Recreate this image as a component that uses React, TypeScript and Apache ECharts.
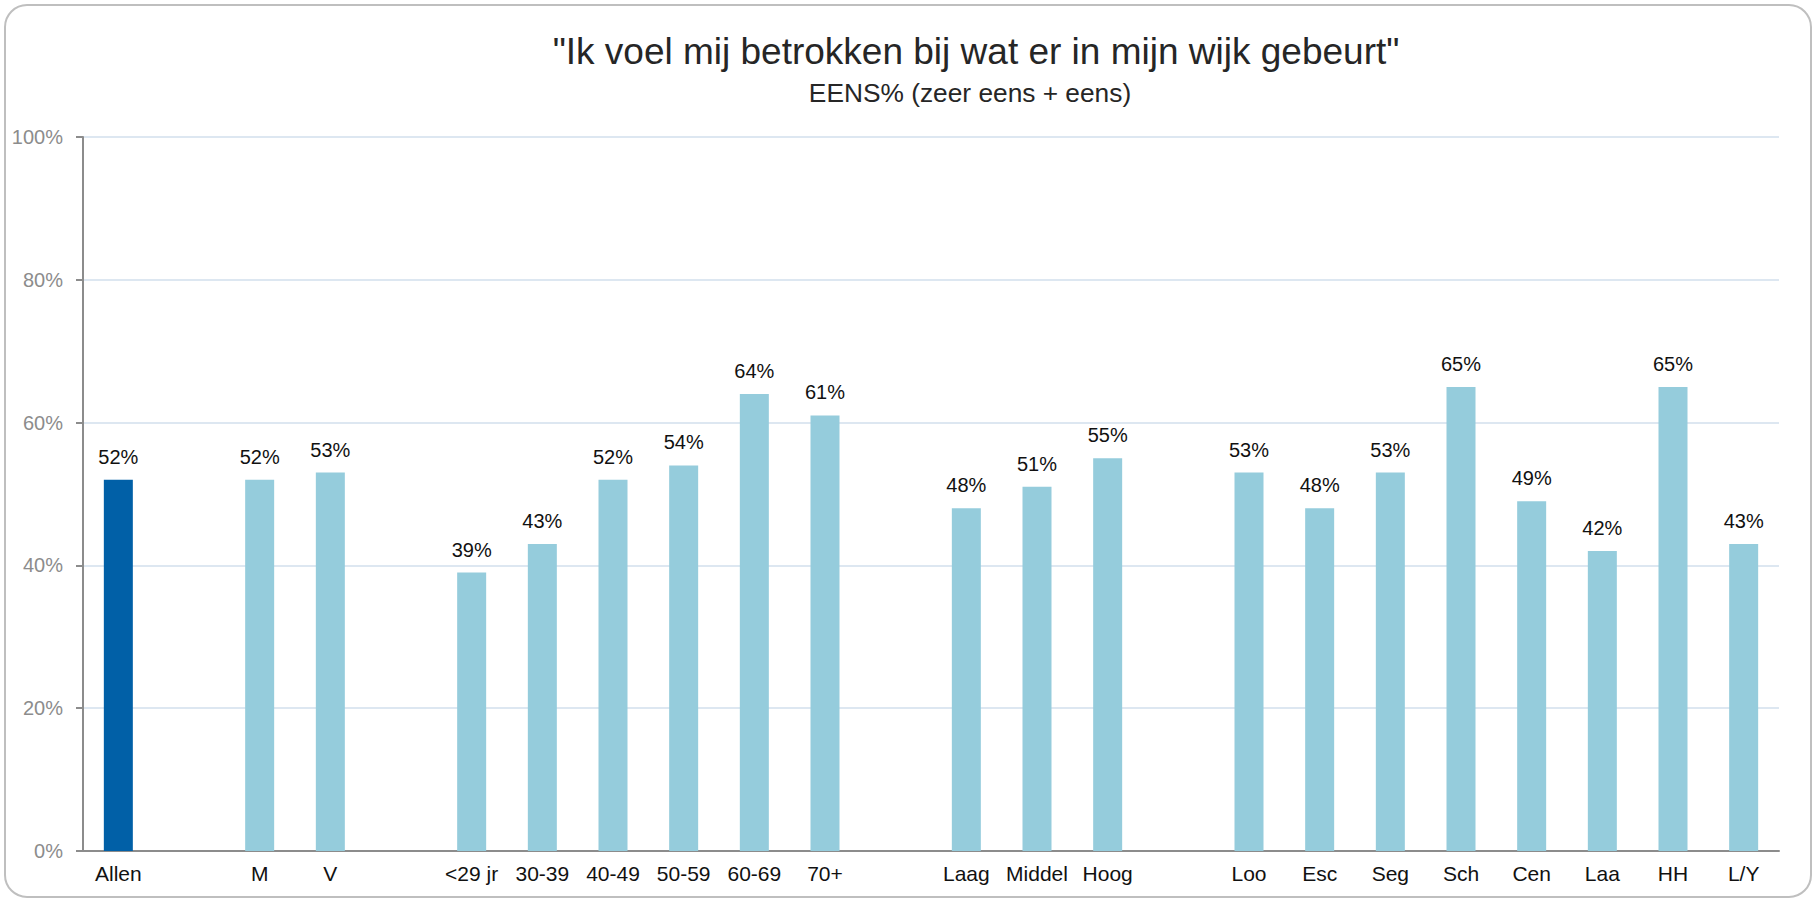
import React, { useEffect, useRef } from "react";
import * as echarts from "echarts";

const categories = [
  "Allen", "", "M", "V", "", "<29 jr", "30-39", "40-49", "50-59", "60-69", "70+", "",
  "Laag", "Middel", "Hoog", "", "Loo", "Esc", "Seg", "Sch", "Cen", "Laa", "HH", "L/Y",
];
const values: (number | null)[] = [
  52, null, 52, 53, null, 39, 43, 52, 54, 64, 61, null,
  48, 51, 55, null, 53, 48, 53, 65, 49, 42, 65, 43,
];
const highlightCategory = "Allen";
const titleText = '"Ik voel mij betrokken bij wat er in mijn wijk gebeurt"';
const subtitleText = "EENS% (zeer eens + eens)";
const yTicks = [0, 20, 40, 60, 80, 100];

const FONT = '"Liberation Sans", Arial, Helvetica, sans-serif';

export default function App() {
  const ref = useRef<HTMLDivElement>(null);
  useEffect(() => {
    if (!ref.current) return;
    const chart = echarts.init(ref.current, undefined, { renderer: "svg" });
    const data = values.map((v, i) =>
      v === null
        ? "-"
        : {
            value: v,
            itemStyle: {
              color: categories[i] === highlightCategory ? "#0160a7" : "#95ccdc",
            },
          }
    );
    chart.setOption({
      animation: false,
      backgroundColor: "#ffffff",
      textStyle: { fontFamily: FONT },
      title: [
        {
          text: titleText,
          left: 971,
          top: 28,
          textAlign: "center",
          textStyle: { fontFamily: FONT, fontSize: 37, fontWeight: "normal", color: "#262626" },
        },
        {
          text: subtitleText,
          left: 965,
          top: 75,
          textAlign: "center",
          textStyle: { fontFamily: FONT, fontSize: 26.3, fontWeight: "normal", color: "#262626" },
        },
      ],
      graphic: [
        {
          type: "rect",
          shape: { x: 5, y: 5, width: 1806, height: 892, r: 22 },
          style: { fill: "none", stroke: "#bfbfbf", lineWidth: 2 },
          silent: true,
          z: 100,
        },
      ],
      grid: { left: 83, right: 38, top: 137, bottom: 50, containLabel: false },
      xAxis: {
        type: "category",
        data: categories,
        axisLine: { show: true, lineStyle: { color: "#8c8c8c", width: 2 } },
        axisTick: { show: false },
        axisLabel: {
          interval: 0,
          color: "#111111",
          fontSize: 21,
          fontFamily: FONT,
          margin: 12,
        },
      },
      yAxis: {
        type: "value",
        min: yTicks[0],
        max: yTicks[yTicks.length - 1],
        interval: 20,
        axisLine: { show: true, lineStyle: { color: "#8c8c8c", width: 2 } },
        axisTick: { show: true, length: 7, lineStyle: { color: "#8c8c8c", width: 2 } },
        axisLabel: {
          color: "#8c8c8c",
          fontSize: 20,
          fontFamily: FONT,
          margin: 20,
          formatter: (v: number) => `${v}%`,
        },
        splitLine: { show: true, lineStyle: { color: "#dde7f1", width: 2 } },
      },
      series: [
        {
          type: "bar",
          data,
          barWidth: 29,
          label: {
            show: true,
            position: "top",
            distance: 13,
            color: "#111111",
            fontSize: 20,
            fontFamily: FONT,
            formatter: (p: any) => `${p.value}%`,
          },
        },
      ],
    });
    return () => chart.dispose();
  }, []);
  return (
    <div
      ref={ref}
      style={{ position: "fixed", left: 0, top: 0, width: 1817, height: 901, background: "#fff" }}
    />
  );
}
